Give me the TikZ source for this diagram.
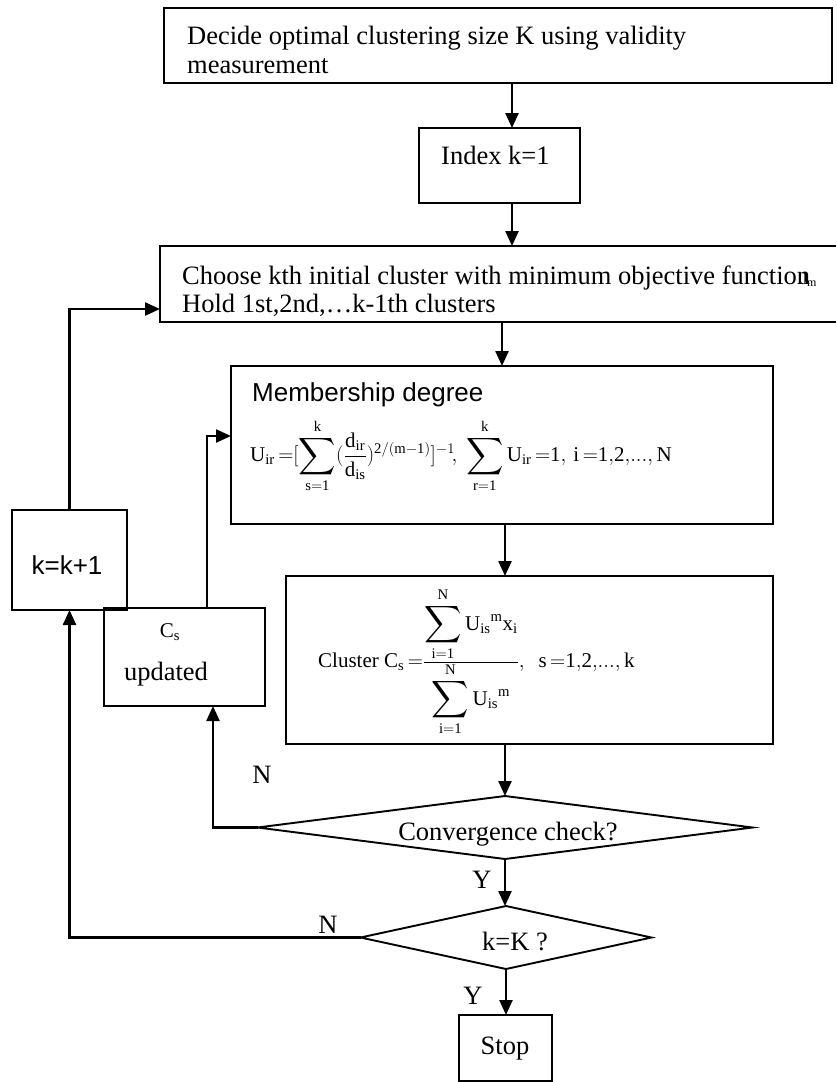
\RequirePackage{fix-cm}
\documentclass[tikz,border=0pt]{standalone}
\usepackage{exscale}
\usepackage{graphicx}
\usepackage{fontspec}
\setmainfont{Liberation Serif}
\setsansfont{Liberation Sans}
\usetikzlibrary{shapes.geometric,arrows.meta}
% a large summation sign with limits above and below
\newcommand{\bsum}{\mathop{\vcenter{\hbox{\scalebox{1.25}{$\displaystyle\sum$}}}}\limits}
% a tight equals sign
\newcommand{\eqs}{\,{=}}

\begin{document}
\begin{tikzpicture}[x=1pt,y=-1pt,
  flowbox/.style={draw, line width=1.9pt, anchor=north west, inner sep=0pt, outer sep=0pt},
  decision/.style={diamond, draw, line width=1.9pt, inner sep=0pt, outer sep=0pt},
  arr/.style={line width=2.4pt, -{Triangle[length=15pt,width=13pt]}},
  plain/.style={line width=1.9pt},
  txt/.style={inner sep=0pt, font=\fontsize{26.5}{30}\selectfont},
  sanstxt/.style={inner sep=0pt, font=\sffamily\fontsize{26}{30}\selectfont},
  mathtxt/.style={inner sep=0pt, font=\fontsize{21}{24}\selectfont}]
\useasboundingbox[fill=white] (0,0) rectangle (836,1082);

% boxes
\node[flowbox, minimum width=668pt, minimum height=75pt] (top) at (164,8) {};
\node[flowbox, minimum width=161pt, minimum height=75pt] (idx) at (419,128) {};
\node[anchor=north west, inner sep=0pt, outer sep=0pt, minimum width=676pt, minimum height=76pt] (choose) at (160,246) {};
\draw[plain] (choose.north east) -- (choose.north west) -- (choose.south west) -- (choose.south east);
\node[flowbox, minimum width=542pt, minimum height=158pt] (mem) at (231,366) {};
\node[flowbox, minimum width=487pt, minimum height=168pt] (clu) at (286,576) {};
\node[flowbox, minimum width=115pt, minimum height=100pt] (kinc) at (12,510) {};
\node[flowbox, minimum width=161pt, minimum height=98pt] (upd) at (104,608) {};
\node[decision, minimum width=495pt, minimum height=63pt] (conv) at (505,827.5) {};
\node[decision, minimum width=291pt, minimum height=63pt] (kK) at (506,937.5) {};
\node[flowbox, minimum width=93pt, minimum height=66pt] (stop) at (459,1015) {};

% texts
\node[txt, anchor=base west] (t1) at (187,44) {Decide optimal clustering size K using validity};
\node[txt, anchor=base west] (t2) at (187,73) {measurement};
\node[txt, anchor=base west] (tidx) at (441,164) {Index k=1};
\node[txt, anchor=base west] (tch1) at (182,284) {Choose kth initial cluster with minimum objective function\kern-9pt{\fontsize{17}{17}\selectfont J\kern-0.5pt\raisebox{-2pt}{\fontsize{12}{12}\selectfont m}}};
\node[txt, anchor=base west] (tch2) at (182,312) {Hold 1st,2nd,…k-1th clusters};
\node[sanstxt, anchor=base west] (tmem) at (252,401) {Membership degree};
\node[mathtxt, anchor=west] (fmem) at (250,456) {$\mathrm{U_{ir}}\eqs[\bsum_{\mathrm{s=1}}^{\mathrm{k}}(\displaystyle\frac{\mathrm{d_{ir}}}{\mathrm{d_{is}}})^{\mathrm{2/(m-1)}}]^{-1}\!,\ \bsum_{\mathrm{r=1}}^{\mathrm{k}}\mathrm{U_{ir}}\eqs\mathrm{1},\,\mathrm{i}\eqs\mathrm{1{,}2{,}...{,}\,N}$};
\node[mathtxt, anchor=west] (fclu) at (318,662) {Cluster $\mathrm{C_s}\eqs\frac{\displaystyle\bsum_{\mathrm{i=1}}^{\mathrm{N}}\mathrm{U_{is}}{}^{\mathrm{m}}\mathrm{x_i}}{\displaystyle\bsum_{\mathrm{i=1}}^{\mathrm{N}}\mathrm{U_{is}}{}^{\mathrm{m}}},\ \ \mathrm{s}\eqs\mathrm{1{,}2{,}...{,}\,k}$};
\node[sanstxt] (tkinc) at (67,565) {k=k+1};
\node[mathtxt] (tcs) at (170,632) {$\mathrm{C_s}$};
\node[txt, anchor=base] (tupd) at (166,680) {updated};
\node[txt, anchor=base] (tconv) at (508,840) {Convergence check?};
\node[txt, anchor=base] (tkK) at (515,950) {k=K ?};
\node[txt, anchor=base] (tstop) at (505,1054) {Stop};

% branch labels
\node[txt] (n1) at (262,775) {N};
\node[txt] (y1) at (482,880) {Y};
\node[txt] (n2) at (328,925) {N};
\node[txt] (y2) at (473,996) {Y};

% main flow
\draw[arr] (top.south -| 512,0) -- (idx.north -| 512,0);
\draw[arr] (idx.south -| 512,0) -- (choose.north -| 512,0);
\draw[arr] (choose.south -| 502,0) -- (mem.north -| 502,0);
\draw[arr] (mem.south -| 505,0) -- (clu.north -| 505,0);
\draw[arr] (clu.south -| conv.north) -- (conv.north);
\draw[arr] (conv.south) -- (conv.south |- kK.north);
\draw[arr] (kK.south) -- (kK.south |- stop.north);

% feedback loops
\draw[arr] (conv.west) -| ([xshift=28.5pt]upd.south);
\draw[arr] ([xshift=22.5pt]upd.north) |- ([yshift=9pt]mem.west);
\draw[arr] (kK.west) -| (kinc.south);
\draw[arr] (kinc.north) |- ([yshift=13pt]choose.south west);
\end{tikzpicture}
\end{document}
